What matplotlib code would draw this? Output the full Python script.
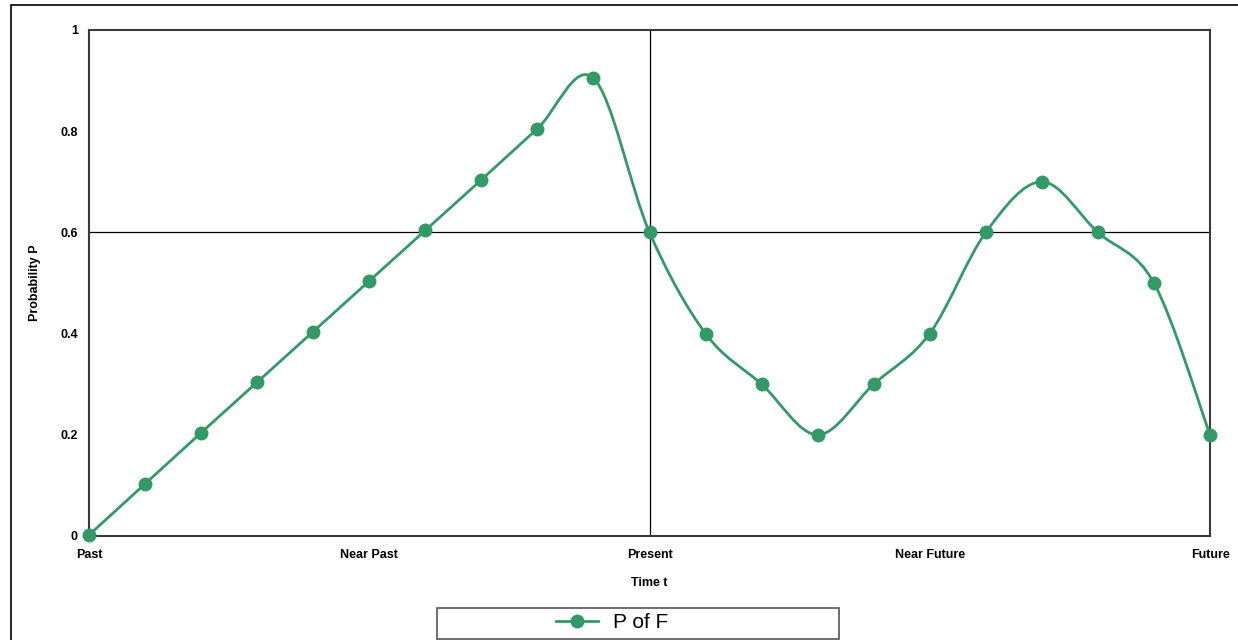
import matplotlib.pyplot as plt
import numpy as np
from matplotlib.patches import Rectangle, PathPatch
from matplotlib.path import Path
from matplotlib.lines import Line2D

plt.rcParams['font.family'] = ['Liberation Sans', 'DejaVu Sans']

# data
t = np.arange(21)
p = [0.002, 0.103, 0.204, 0.304, 0.404, 0.504, 0.604, 0.704, 0.805, 0.905, 0.6,
     0.4, 0.3, 0.2, 0.3, 0.4, 0.6, 0.7, 0.6, 0.5, 0.2]
tick_pos = [0, 5, 10, 15, 20]
tick_labels = ['Past', 'Near Past', 'Present', 'Near Future', 'Future']
y_ticks = [0, 0.2, 0.4, 0.6, 0.8, 1]
y_tick_labels = ['0', '0.2', '0.4', '0.6', '0.8', '1']

GREEN = '#339966'
W, H = 1238, 640


def smooth_path(x, y):
    # Excel-style smoothed line: cubic Bezier with Catmull-Rom control points
    pts = np.column_stack([x, y]).astype(float)
    n = len(pts)
    verts = [pts[0]]
    codes = [Path.MOVETO]
    for i in range(n - 1):
        p0 = pts[max(i - 1, 0)]
        p1 = pts[i]
        p2 = pts[i + 1]
        p3 = pts[min(i + 2, n - 1)]
        c1 = p1 + (p2 - p0) / 6
        c2 = p2 - (p3 - p1) / 6
        verts += [c1, c2, p2]
        codes += [Path.CURVE4] * 3
    return Path(verts, codes)


fig = plt.figure(figsize=(W / 100, H / 100), dpi=100)
ax = fig.add_axes([89 / W, 1 - 536 / H, (1210 - 89) / W, (536 - 30) / H])

# outer chart-area border (cropped at the right and bottom)
fig.patches.append(Rectangle((11 / W, -0.05), 1.2, 1 - 5 / H + 0.05,
                             transform=fig.transFigure, fill=False,
                             edgecolor='black', lw=1.2))

ax.axhline(0.6, color='black', lw=0.9, zorder=1)
ax.axvline(10, color='black', lw=0.9, zorder=1)

ax.add_patch(PathPatch(smooth_path(t, p), fill=False, edgecolor=GREEN,
                       lw=2.0, zorder=3, clip_on=False))
ax.plot(t, p, linestyle='none', marker='o', color=GREEN, markersize=9,
        zorder=4, clip_on=False)

ax.set_xlim(0, 20)
ax.set_ylim(0, 1)
ax.set_xticks(tick_pos)
ax.set_xticklabels(tick_labels, fontsize=9, fontweight='bold')
ax.set_yticks(y_ticks)
ax.set_yticklabels(y_tick_labels, fontsize=9, fontweight='bold')
ax.tick_params(axis='both', length=0)
ax.tick_params(axis='x', pad=9)
ax.tick_params(axis='y', pad=8)
for s in ax.spines.values():
    s.set_color('#3a3a3a')
    s.set_linewidth(1.5)

ax.set_xlabel('Time t', fontsize=9, fontweight='bold', labelpad=12)
ax.set_ylabel('Probability P', fontsize=9, fontweight='bold', labelpad=14)

# legend box
fig.patches.append(Rectangle((437 / W, 1 - 639 / H), (839 - 437) / W, 31 / H,
                             transform=fig.transFigure, fill=False,
                             edgecolor='#555555', lw=1.2))
handle = Line2D([], [], color=GREEN, lw=2.0, marker='o', markersize=9)
fig.legend([handle], ['P of F'], loc='center left',
           bbox_to_anchor=(556 / W, 1 - 623 / H), frameon=False,
           borderpad=0, borderaxespad=0,
           fontsize=15, handlelength=2.0, handletextpad=0.75)

fig.savefig('out.png', dpi=100)
